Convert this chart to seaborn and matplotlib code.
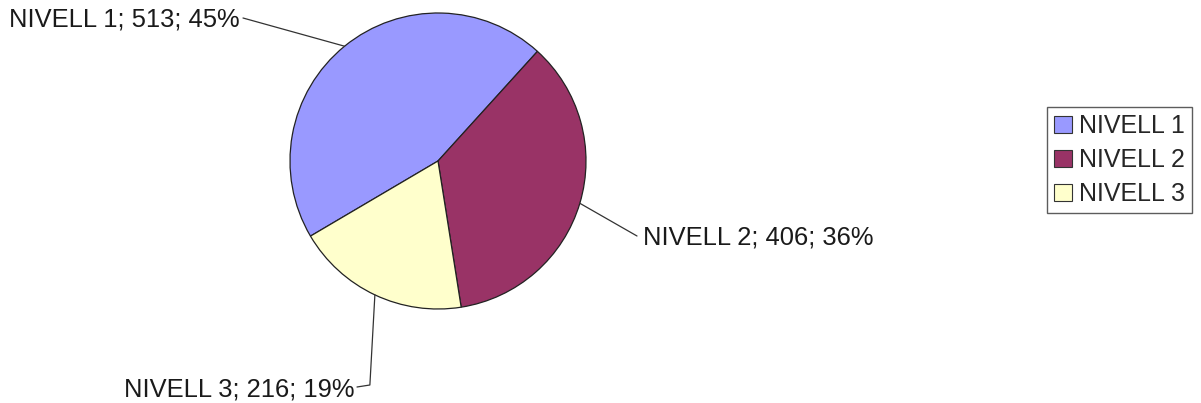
import numpy as np
import matplotlib.pyplot as plt
import seaborn as sns

sns.set_theme(style="white")
plt.rcParams['font.family'] = ['Liberation Sans', 'DejaVu Sans']

# Data
categories = ['NIVELL 1', 'NIVELL 2', 'NIVELL 3']
values = [513, 406, 216]
colors = ['#9999FF', '#993366', '#FFFFCC']

# label anchor points (pixel coords, y from top) and alignment
label_pos = [(240, 20, 'right'), (643, 238, 'left'), (354, 389, 'right')]

W, H = 1201, 403
fig = plt.figure(figsize=(W / 100, H / 100), dpi=100)
ax = fig.add_axes([0, 0, 1, 1])

cx, cy, r = 438, H - 161, 148
wedges, _ = ax.pie(values, colors=colors, startangle=210.5, counterclock=False,
                   center=(cx, cy), radius=r, frame=True,
                   wedgeprops=dict(edgecolor='#222222', linewidth=0.9))
ax.set_xlim(0, W)
ax.set_ylim(0, H)
ax.axis('off')

total = sum(values)
for w, cat, val, (lx, ly, ha) in zip(wedges, categories, values, label_pos):
    mid = np.deg2rad((w.theta1 + w.theta2) / 2)
    ex, ey = cx + r * np.cos(mid), cy + r * np.sin(mid)
    pct = round(100 * val / total)
    ty = H - ly
    ax.text(lx, ty, f"{cat}; {val}; {pct}%", ha=ha, va='center',
            fontsize=18.4, color='#1a1a1a')
    tx = lx + 3 if ha == 'right' else lx - 6
    if cat == 'NIVELL 3':
        ax.plot([tx, ex - 5, ex], [ty + 2, ty + 4, ey], color='#333333', lw=0.9)
    else:
        ax.plot([tx, ex], [ty + 2, ey], color='#333333', lw=0.9)

handles = [plt.Rectangle((0, 0), 1, 1, facecolor=c, edgecolor='#333333', lw=0.8)
           for c in colors]
leg = ax.legend(handles, categories, loc='upper left',
                bbox_to_anchor=(1047 / W, 1 - 107 / H), fontsize=18,
                frameon=True, fancybox=False, edgecolor='#333333',
                handlelength=0.7, handleheight=0.7, handletextpad=0.3,
                labelspacing=0.4, borderpad=0.28, borderaxespad=0)
leg.get_frame().set_linewidth(1.0)

fig.savefig('out.png', dpi=100, facecolor='white')
